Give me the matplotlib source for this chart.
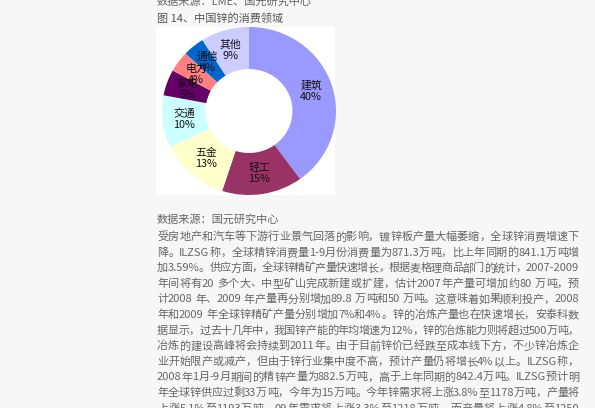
import matplotlib
matplotlib.use("Agg")
import matplotlib.pyplot as plt
from matplotlib.patches import Rectangle
import numpy as np
import re

plt.rcParams['font.family'] = ['Noto Sans CJK SC', 'DejaVu Sans']

# Donut data: consumption sectors of zinc in China (%)
sectors = ["建筑", "轻工", "五金", "交通", "家电", "电力", "通信", "其他"]
shares = [40, 15, 13, 10, 5, 4, 4, 9]
colors = ["#9999FF", "#993366", "#FFFFCC", "#CCFFFF", "#660066", "#FF8080", "#0066CC", "#CCCCFF"]

# Page text around the chart
top_source = "数据来源：LME、国元研究中心"
fig_title = "图 14、中国锌的消费领域"
bottom_source = "数据来源：国元研究中心"
body_lines = [
    "受房地产和汽车等下游行业景气回落的影响，镀锌板产量大幅萎缩，全球锌消费增速下",
    "降。ILZSG称，全球精锌消费量1-9月份消费量为871.3万吨，比上年同期的841.1万吨增",
    "加3.59%。供应方面，全球锌精矿产量快速增长，根据麦格理商品部门的统计，2007-2009",
    "年间将有20 多个大、中型矿山完成新建或扩建，估计2007年产量可增加约80 万吨，预",
    "计2008 年、2009 年产量再分别增加89.8 万吨和50 万吨。这意味着如果顺利投产，2008",
    "年和2009 年全球锌精矿产量分别增加7%和4%。锌的冶炼产量也在快速增长，安泰科数",
    "据显示，过去十几年中，我国锌产能的年均增速为12%，锌的冶炼能力则将超过500万吨，",
    "冶炼的建设高峰将会持续到2011年。由于目前锌价已经跌至成本线下方，不少锌冶炼企",
    "业开始限产或减产，但由于锌行业集中度不高，预计产量仍将增长4%以上。ILZSG称，",
    "2008年1月-9月期间的精锌产量为882.5万吨，高于上年同期的842.4万吨。ILZSG预计明",
    "年全球锌供应过剩33万吨，今年为15万吨。今年锌需求将上涨3.8%至1178万吨，产量将",
    "上涨5.1%至1193万吨，09年需求将上涨3.3%至1218万吨，而产量将上涨4.8%至1250",
]

W, H = 595, 408
fig = plt.figure(figsize=(W / 100, H / 100), dpi=100)
fig.patch.set_facecolor("#f7f7f7")

def fy(py):
    return 1 - py / H

# white chart box (behind the donut axes)
box = Rectangle((156 / W, fy(195)), 179 / W, 168 / H, transform=fig.transFigure,
                facecolor="white", edgecolor="none", zorder=-5)
fig.add_artist(box)

ax = fig.add_axes([162 / W, fy(195), 174 / W, 168 / H])
ax.set_facecolor("none")
wedges, _ = ax.pie(shares, colors=colors, startangle=90, counterclock=False,
                   radius=1, wedgeprops=dict(width=0.5, linewidth=0))
ax.set_xlim(-1, 1)
ax.set_ylim(-1, 1)
ax.set_aspect("auto")
ax.axis("off")

for w, name, val in zip(wedges, sectors, shares):
    ang = np.deg2rad((w.theta1 + w.theta2) / 2)
    r = 0.75
    ax.text(r * np.cos(ang), r * np.sin(ang), f"{name}\n{val}%", ha="center",
            va="center", fontsize=7.8, color="#111111", linespacing=1.15)

txt_color = "#666666"
fig.text(157 / W, fy(2), top_source, fontsize=8, color=txt_color, va="center")
fig.text(157 / W, fy(18), fig_title, fontsize=8, color="#555555", va="center")
fig.text(157 / W, fy(220), bottom_source, fontsize=8, color=txt_color, va="center")

# body paragraph, justified between x0 and x1 like the scanned page
# latin words / numbers stay together, the spare room goes between tokens
renderer = fig.canvas.get_renderer()
x0, x1 = 157, 579
for i, line in enumerate(body_lines):
    tokens = re.findall(r"[A-Za-z0-9.%\-]+| |.", line)
    widths = []
    for tok in tokens:
        if tok == " ":
            widths.append(3.0)
            continue
        t = fig.text(0, 0, tok, fontsize=8)
        widths.append(t.get_window_extent(renderer).width)
        t.remove()
    gap = (x1 - x0 - sum(widths)) / (len(tokens) - 1)
    x = x0
    for tok, wd in zip(tokens, widths):
        if tok != " ":
            fig.text(x / W, fy(237 + i * 15.6), tok, fontsize=8, color=txt_color, va="center")
        x += wd + gap

fig.savefig("out.png", dpi=100, facecolor=fig.get_facecolor())
